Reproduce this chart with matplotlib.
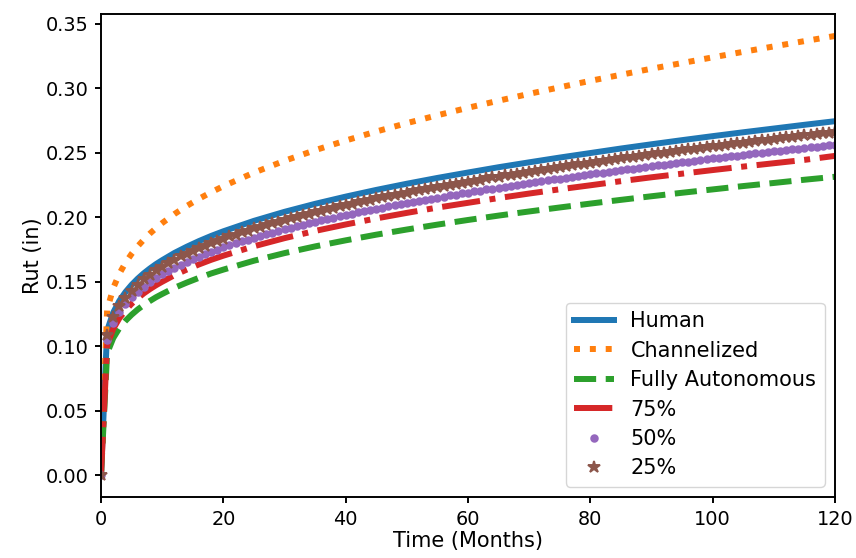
import matplotlib
matplotlib.use("Agg")
import matplotlib.pyplot as plt

S = 1.39
plt.rcParams.update({
    "font.family": ["DejaVu Sans"],
    "font.size": 10 * S,
    "axes.linewidth": 1.0 * S,
    "xtick.major.size": 3.0 * S,
    "ytick.major.size": 3.0 * S,
    "xtick.major.width": 1.0 * S,
    "ytick.major.width": 1.0 * S,
    "xtick.major.pad": 3.5 * S,
    "ytick.major.pad": 3.5 * S,
    "axes.labelpad": 4.0 * S,
    "lines.markeredgewidth": 1.0 * S,
})
LABEL_FS = 15.0

# ---- data ----
months_line = [0, 1, 2, 3, 4, 5, 6, 7, 8, 9, 10, 12, 14, 16, 18, 20, 25, 30, 35, 40,
               45, 50, 55, 60, 65, 70, 75, 80, 85, 90, 95, 100, 105, 110, 115, 120]

human = [0, .1120, .1260, .1351, .1419, .1475, .1523, .1565, .1602, .1636, .1666,
         .1722, .1770, .1814, .1854, .1890, .1971, .2041, .2103, .2159, .2211, .2259,
         .2304, .2346, .2387, .2425, .2462, .2497, .2532, .2565, .2597, .2628, .2658,
         .2687, .2716, .2744]

channelized = [0, .1280, .1450, .1561, .1646, .1715, .1774, .1826, .1873, .1915, .1954,
               .2024, .2086, .2142, .2193, .2240, .2345, .2437, .2519, .2594, .2664, .2729,
               .2790, .2848, .2903, .2956, .3007, .3057, .3104, .3151, .3195, .3239, .3282,
               .3324, .3365, .3405]

fully_autonomous = [0, .0944, .1062, .1139, .1196, .1243, .1284, .1319, .1350, .1379, .1404,
                    .1452, .1492, .1529, .1563, .1593, .1662, .1721, .1773, .1820, .1864, .1904,
                    .1942, .1978, .2012, .2044, .2075, .2105, .2134, .2162, .2189, .2215, .2241,
                    .2265, .2290, .2313]

pct75 = [0, .1008, .1134, .1216, .1277, .1328, .1371, .1409, .1442, .1472, .1499,
         .1550, .1593, .1633, .1669, .1701, .1774, .1837, .1893, .1943, .1990, .2033,
         .2074, .2111, .2148, .2183, .2216, .2247, .2279, .2309, .2337, .2365, .2392,
         .2418, .2444, .2475]

months_mark = list(range(0, 121))

pct50 = [0, .1046, .1177, .1262, .1325, .1378, .1423, .1462, .1496, .1528, .1556,
         .1583, .1608, .1632, .1653, .1675, .1694, .1713, .1732, .1748, .1765,
         .1781, .1796, .1812, .1826, .1841, .1854, .1867, .1880, .1893, .1906,
         .1918, .1930, .1942, .1953, .1964, .1975, .1986, .1996, .2006, .2017,
         .2027, .2036, .2046, .2056, .2065, .2074, .2083, .2092, .2101, .2110,
         .2118, .2127, .2135, .2144, .2152, .2159, .2168, .2175, .2184, .2191,
         .2199, .2206, .2215, .2222, .2229, .2237, .2243, .2251, .2257, .2265,
         .2271, .2279, .2285, .2293, .2299, .2306, .2313, .2319, .2326, .2332,
         .2339, .2345, .2352, .2358, .2365, .2371, .2377, .2384, .2389, .2396,
         .2401, .2408, .2414, .2420, .2426, .2431, .2437, .2443, .2449, .2455,
         .2460, .2466, .2471, .2477, .2483, .2488, .2494, .2498, .2504, .2510,
         .2515, .2521, .2526, .2531, .2537, .2542, .2547, .2553, .2557, .2563]

pct25 = [0, .1086, .1222, .1311, .1376, .1431, .1477, .1518, .1554, .1587, .1616,
         .1644, .1670, .1695, .1717, .1739, .1760, .1779, .1798, .1816, .1833,
         .1850, .1865, .1882, .1896, .1912, .1925, .1939, .1953, .1966, .1980,
         .1992, .2004, .2017, .2028, .2040, .2051, .2062, .2073, .2084, .2094,
         .2105, .2115, .2125, .2135, .2145, .2154, .2163, .2173, .2182, .2191,
         .2200, .2209, .2217, .2226, .2235, .2243, .2251, .2259, .2268, .2276,
         .2283, .2291, .2300, .2308, .2315, .2323, .2330, .2338, .2344, .2352,
         .2359, .2367, .2374, .2381, .2388, .2395, .2402, .2409, .2415, .2422,
         .2429, .2436, .2442, .2449, .2456, .2463, .2469, .2475, .2481, .2488,
         .2494, .2501, .2507, .2513, .2519, .2525, .2531, .2538, .2543, .2549,
         .2555, .2561, .2567, .2572, .2578, .2584, .2590, .2595, .2601, .2606,
         .2612, .2618, .2623, .2629, .2635, .2640, .2645, .2651, .2656, .2662]

labels = ["Human", "Channelized", "Fully Autonomous", "75%", "50%", "25%"]
xlabel = "Time (Months)"
ylabel = "Rut (in)"

# ---- plot ----
W, H = 856, 558
fig = plt.figure(figsize=(W / 100, H / 100), dpi=100)
ax = fig.add_axes([101 / W, (H - 497) / H, (835 - 101) / W, (497 - 14) / H])

lw = 3.1 * S
ax.plot(months_line, human, color="C0", lw=lw, ls="-", label=labels[0])
ax.plot(months_line, channelized, color="C1", lw=lw, ls=":", label=labels[1])
ax.plot(months_line, fully_autonomous, color="C2", lw=lw, ls="--", label=labels[2])
ax.plot(months_line, pct75, color="C3", lw=lw, ls="-.", label=labels[3])
ax.plot(months_mark, pct50, color="C4", ls="none", marker=".", ms=9.4, label=labels[4])
ax.plot(months_mark, pct25, color="C5", ls="none", marker="*", ms=9.0, label=labels[5])

ax.set_xlim(0, 120)
ax.set_xlabel(xlabel, fontsize=LABEL_FS, labelpad=2)
ax.set_ylabel(ylabel, fontsize=LABEL_FS, labelpad=2)
ax.legend(loc="lower right", fontsize=LABEL_FS, handlelength=1.9, labelspacing=0.45)

fig.savefig("out.png", dpi=100)
